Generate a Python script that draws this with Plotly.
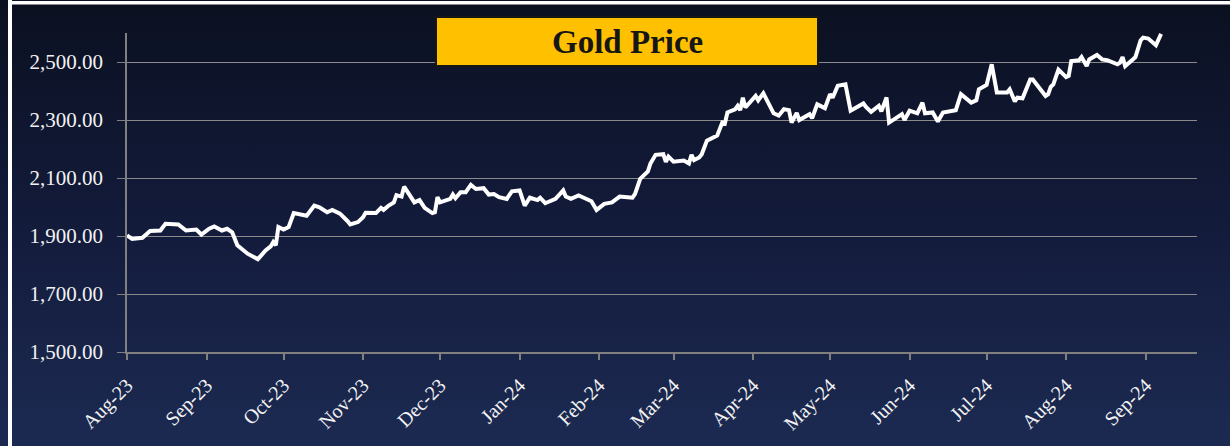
import base64
import plotly.graph_objects as go

# ---------------- data ----------------
dates = [
    "2023-08-01", "2023-08-03", "2023-08-07", "2023-08-10", "2023-08-14", "2023-08-16", "2023-08-21", "2023-08-24", "2023-08-28", "2023-08-30",
    "2023-09-02", "2023-09-04", "2023-09-07", "2023-09-09", "2023-09-11", "2023-09-13", "2023-09-17", "2023-09-20", "2023-09-21", "2023-09-24",
    "2023-09-26", "2023-09-27", "2023-09-28", "2023-09-29", "2023-10-01", "2023-10-03", "2023-10-05", "2023-10-10", "2023-10-13", "2023-10-15",
    "2023-10-18", "2023-10-20", "2023-10-23", "2023-10-26", "2023-10-27", "2023-10-30", "2023-11-01", "2023-11-02", "2023-11-06", "2023-11-08",
    "2023-11-09", "2023-11-11", "2023-11-13", "2023-11-14", "2023-11-16", "2023-11-17", "2023-11-21", "2023-11-23", "2023-11-25", "2023-11-28",
    "2023-11-29", "2023-11-30", "2023-12-01", "2023-12-05", "2023-12-06", "2023-12-07", "2023-12-09", "2023-12-11", "2023-12-13", "2023-12-15",
    "2023-12-18", "2023-12-20", "2023-12-22", "2023-12-24", "2023-12-27", "2023-12-29", "2024-01-01", "2024-01-03", "2024-01-05", "2024-01-08",
    "2024-01-09", "2024-01-11", "2024-01-15", "2024-01-18", "2024-01-19", "2024-01-21", "2024-01-24", "2024-01-26", "2024-01-29", "2024-01-31",
    "2024-02-03", "2024-02-06", "2024-02-07", "2024-02-09", "2024-02-12", "2024-02-14", "2024-02-15", "2024-02-17", "2024-02-20", "2024-02-21",
    "2024-02-23", "2024-02-26", "2024-02-27", "2024-02-28", "2024-03-01", "2024-03-05", "2024-03-07", "2024-03-08", "2024-03-09", "2024-03-11",
    "2024-03-12", "2024-03-14", "2024-03-18", "2024-03-20", "2024-03-21", "2024-03-22", "2024-03-25", "2024-03-26", "2024-03-27", "2024-03-28",
    "2024-03-29", "2024-04-02", "2024-04-03", "2024-04-05", "2024-04-09", "2024-04-11", "2024-04-13", "2024-04-15", "2024-04-16", "2024-04-18",
    "2024-04-19", "2024-04-23", "2024-04-24", "2024-04-26", "2024-04-29", "2024-05-01", "2024-05-02", "2024-05-04", "2024-05-07", "2024-05-09",
    "2024-05-14", "2024-05-15", "2024-05-17", "2024-05-20", "2024-05-21", "2024-05-23", "2024-05-24", "2024-05-27", "2024-05-29", "2024-05-30",
    "2024-06-01", "2024-06-04", "2024-06-06", "2024-06-07", "2024-06-10", "2024-06-12", "2024-06-14", "2024-06-19", "2024-06-21", "2024-06-25",
    "2024-06-27", "2024-06-28", "2024-07-01", "2024-07-03", "2024-07-05", "2024-07-09", "2024-07-10", "2024-07-12", "2024-07-13", "2024-07-15",
    "2024-07-18", "2024-07-19", "2024-07-24", "2024-07-25", "2024-07-26", "2024-07-27", "2024-07-29", "2024-08-01", "2024-08-02", "2024-08-03",
    "2024-08-06", "2024-08-07", "2024-08-09", "2024-08-10", "2024-08-13", "2024-08-15", "2024-08-17", "2024-08-21", "2024-08-22", "2024-08-23",
    "2024-08-24", "2024-08-27", "2024-08-28", "2024-08-30", "2024-08-31", "2024-09-02", "2024-09-05", "2024-09-07",
]

gold_price = [
    1902, 1890, 1894, 1917, 1919, 1942, 1940, 1919, 1922, 1905,
    1925, 1933, 1919, 1925, 1913, 1868, 1839, 1822, 1820, 1850,
    1864, 1879, 1868, 1931, 1922, 1931, 1979, 1970, 2005, 1999,
    1982, 1990, 1977, 1951, 1940, 1948, 1965, 1980, 1979, 1997,
    1990, 2005, 2016, 2041, 2036, 2070, 2016, 2024, 1997, 1979,
    1982, 2034, 2016, 2028, 2043, 2030, 2051, 2051, 2076, 2062,
    2065, 2043, 2045, 2034, 2028, 2054, 2057, 2005, 2032, 2024,
    2032, 2013, 2028, 2057, 2036, 2028, 2040, 2032, 2020, 1990,
    2011, 2016, 2022, 2036, 2034, 2032, 2045, 2097, 2123, 2150,
    2180, 2182, 2156, 2174, 2156, 2160, 2150, 2180, 2162, 2171,
    2182, 2229, 2246, 2291, 2288, 2326, 2337, 2349, 2334, 2377,
    2343, 2383, 2368, 2392, 2323, 2315, 2337, 2334, 2291, 2324,
    2300, 2320, 2306, 2354, 2341, 2389, 2377, 2418, 2423, 2332,
    2357, 2345, 2328, 2349, 2330, 2378, 2291, 2309, 2320, 2300,
    2332, 2323, 2360, 2323, 2326, 2295, 2326, 2334, 2389, 2360,
    2368, 2406, 2421, 2492, 2395, 2395, 2406, 2364, 2377, 2375,
    2440, 2440, 2383, 2389, 2414, 2423, 2474, 2448, 2452, 2503,
    2506, 2517, 2486, 2509, 2524, 2509, 2506, 2492, 2498, 2517,
    2486, 2509, 2517, 2574, 2584, 2581, 2558, 2597,
]

tick_dates = [
    "2023-08-01", "2023-09-01", "2023-10-01", "2023-11-01", "2023-12-01", "2024-01-01", "2024-02-01",
    "2024-03-01", "2024-04-01", "2024-05-01", "2024-06-01", "2024-07-01", "2024-08-01", "2024-09-01",
]
tick_labels = [
    "Aug-23", "Sep-23", "Oct-23", "Nov-23", "Dec-23", "Jan-24", "Feb-24",
    "Mar-24", "Apr-24", "May-24", "Jun-24", "Jul-24", "Aug-24", "Sep-24",
]
y_ticks = [1500, 1700, 1900, 2100, 2300, 2500]
x_range = ["2023-08-01", "2024-09-21"]
y_range = [1500, 2600]
title_text = "Gold Price"

# ---------------- layout geometry ----------------
W, H = 1230, 446
ML, MR, MT, MB = 127, 33, 33, 94
PW, PH = W - ML - MR, H - MT - MB


def px(x):
    return (x - ML) / PW


def py(y):
    return (H - MB - y) / PH


svg = (
    '<svg xmlns="http://www.w3.org/2000/svg" width="1230" height="446">'
    '<defs><linearGradient id="g" x1="0" y1="0" x2="0" y2="1">'
    '<stop offset="0" stop-color="#0b1020"/>'
    '<stop offset="0.5" stop-color="#131b3b"/>'
    '<stop offset="1" stop-color="#1c2a52"/>'
    '</linearGradient></defs>'
    '<rect width="1230" height="446" fill="url(#g)"/></svg>'
)
bg_uri = "data:image/svg+xml;base64," + base64.b64encode(svg.encode()).decode()

fig = go.Figure()
fig.add_trace(go.Scatter(
    x=dates, y=gold_price, mode="lines",
    line=dict(color="#ffffff", width=4),
    hoverinfo="skip", showlegend=False,
))

tick_font = dict(family="Liberation Serif", color="#f2f2f2")
axis_col = "#808080"

fig.update_layout(
    width=W, height=H,
    margin=dict(l=ML, r=MR, t=MT, b=MB, pad=0),
    paper_bgcolor="#131b3b",
    plot_bgcolor="rgba(0,0,0,0)",
    showlegend=False,
    images=[dict(
        source=bg_uri, xref="paper", yref="paper",
        x=px(0), y=py(0), sizex=W / PW, sizey=H / PH,
        xanchor="left", yanchor="top", sizing="stretch", layer="below",
    )],
    xaxis=dict(
        type="date", range=x_range,
        tickmode="array", tickvals=tick_dates, ticktext=tick_labels,
        tickangle=-45, tickfont=dict(size=20, **tick_font),
        showgrid=False, zeroline=False,
        showline=True, linecolor=axis_col, linewidth=1.5,
        ticks="outside", ticklen=6, tickcolor=axis_col, tickwidth=1.5,
        ticklabelstandoff=6,
    ),
    yaxis=dict(
        range=y_range, tickmode="array", tickvals=y_ticks, tickformat=",.2f",
        tickfont=dict(size=21, **tick_font),
        showgrid=True, gridcolor="#8a8a8a", gridwidth=1,
        zeroline=False,
        showline=True, linecolor=axis_col, linewidth=1.5,
        ticks="outside", ticklen=8, tickcolor=axis_col, tickwidth=1,
        ticklabelstandoff=10,
    ),
    shapes=[
        # title box
        dict(type="rect", xref="paper", yref="paper",
             x0=px(436), x1=px(818), y0=py(66), y1=py(17),
             fillcolor="#FFC000", line=dict(color="#161616", width=2), layer="above"),
        # white frame lines
        dict(type="rect", xref="paper", yref="paper",
             x0=px(8), x1=px(12), y0=py(446), y1=py(0),
             fillcolor="#ffffff", line=dict(width=0), layer="above"),
        dict(type="rect", xref="paper", yref="paper",
             x0=px(8), x1=px(1230), y0=py(4.5), y1=py(1),
             fillcolor="#ffffff", line=dict(width=0), layer="above"),
    ],
    annotations=[
        dict(text="<b>" + title_text + "</b>", xref="paper", yref="paper",
             x=px(627), y=py(42), xanchor="center", yanchor="middle",
             showarrow=False,
             font=dict(family="Liberation Serif", size=33, color="#161616")),
    ],
)

fig.write_html(
    "out.html",
    config={"displayModeBar": False},
    post_script="document.body.style.margin='0';",
)
